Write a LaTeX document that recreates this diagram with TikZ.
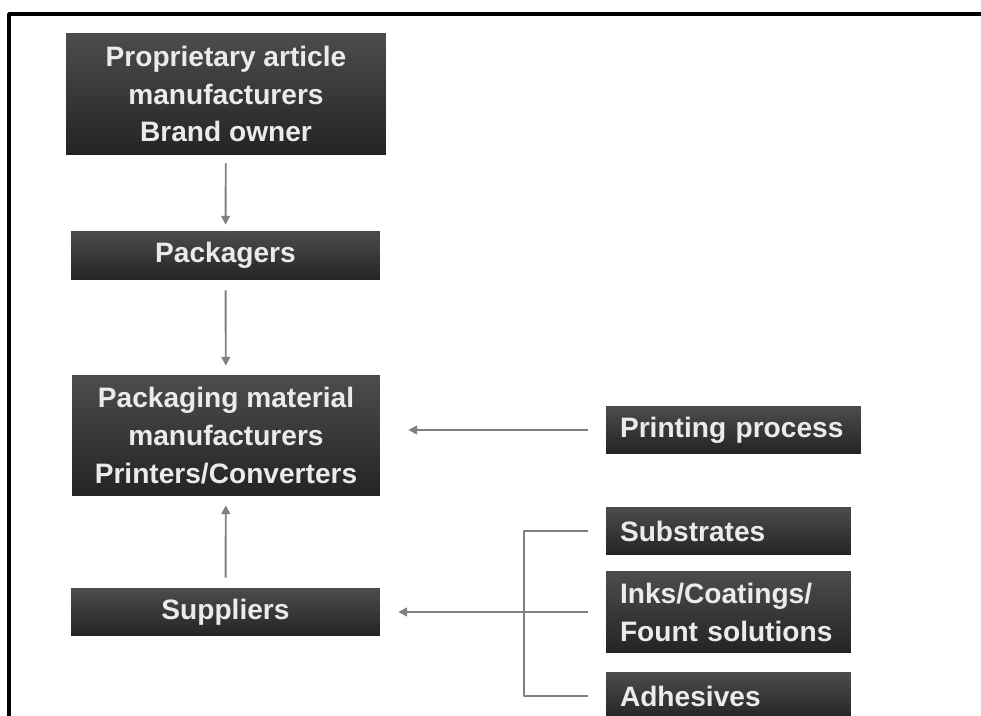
\documentclass[tikz,border=0pt]{standalone}
\usepackage{fontspec}
\setmainfont{Liberation Sans}
\usetikzlibrary{arrows.meta}
\tikzset{
  darkbox/.style={top color=black!70,bottom color=black!86,text=white!92!black,
    font=\fontsize{16}{21.6}\selectfont\bfseries,align=center,inner sep=0pt},
  sidebox/.style={darkbox,align=left,inner xsep=0.28cm},
  link/.style={draw=black!50,line width=1.1pt}
}
\begin{document}
\begin{tikzpicture}[x=0.02cm,y=-0.02cm,line join=round,>={Triangle[length=5pt,width=5pt]}]
\useasboundingbox (0,0) rectangle (981,716);
\clip (0,0) rectangle (981,716);
\draw[line width=2pt] (9,740) -- (9,14) -- (990,14);
% chain on the left
\node[darkbox,minimum width=6.4cm,minimum height=2.44cm] (brand) at (226,94) {Proprietary article\\manufacturers\\Brand owner};
\node[darkbox,minimum width=6.18cm,minimum height=0.98cm] (pack) at (225.5,255.5) {Packagers};
\node[darkbox,minimum width=6.16cm,minimum height=2.42cm] (mat) at (226,435.5) {Packaging material\\manufacturers\\Printers/Converters};
\node[darkbox,minimum width=6.18cm,minimum height=0.96cm] (sup) at (225.5,612) {Suppliers};
% boxes on the right
\node[sidebox,text width=4.54cm,minimum height=0.96cm] (print) at (733.5,430) {Printing process};
\node[sidebox,text width=4.34cm,minimum height=0.96cm] (subs) at (728.5,531) {Substrates};
\node[sidebox,text width=4.34cm,minimum height=1.64cm] (inks) at (728.5,612) {Inks/Coatings/\\Fount solutions};
\node[sidebox,text width=4.34cm,minimum height=0.96cm] (adh) at (728.5,696) {Adhesives};
\coordinate (bx) at (524,0);
% connectors
\draw[link,->,shorten <=0.16cm,shorten >=0.12cm] (brand) -- (pack);
\draw[link,->,shorten <=0.2cm,shorten >=0.18cm] (pack) -- (mat);
\draw[link,->,shorten <=0.2cm,shorten >=0.18cm] (sup) -- (mat);
\draw[link,->,shorten <=0.36cm,shorten >=0.56cm] (print.west) -- (print.west -| mat.east);
\draw[link,shorten <=0.36cm,shorten >=0.36cm] (subs.west) -- (subs.west -| bx) -- (adh.west -| bx) -- (adh.west);
\draw[link,->,shorten <=0.36cm,shorten >=0.36cm] (inks.west) -- (sup.east);
\end{tikzpicture}
\end{document}
